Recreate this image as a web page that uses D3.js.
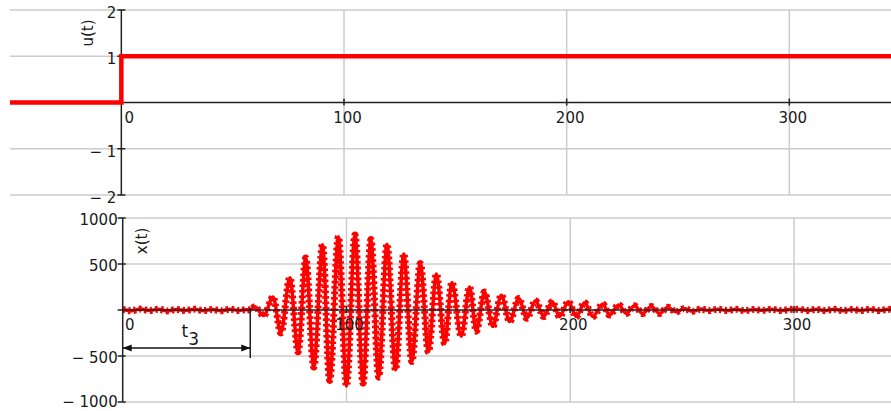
<!DOCTYPE html>
<html>
<head>
<meta charset="utf-8">
<script src="https://cdn.jsdelivr.net/npm/d3@7"></script>
<style>
	body { margin: 0; background: #fff; }
	svg { display: block; }
	.lbl { font-family: "DejaVu Sans", sans-serif; font-size: 15px; fill: #1a1a1a; }
	.grid { stroke: #cccccc; stroke-width: 1.5; }
	.axis { stroke: #222; stroke-width: 1.5; }
</style>
</head>
<body>
<div id="chart"></div>
<script>

// u(t) : unit step
var stepTimes = [-50, 0, 350]
var stepValues = [0, 1, 1]

// x(t) : response (peaks / troughs + flat noise)
var sigTimes = [0, 4, 8, 12, 16, 20, 24, 28, 32, 36, 40, 44, 48, 52, 55,
	57, 59, 63, 67.2, 70.7, 74.7, 78.4, 81.8, 85.4, 89.3, 92.5, 96.4, 100,
	103.8, 107.4, 110.9, 114.4, 118.1, 121.9, 125.6, 129.2, 133, 136.6, 140.2,
	143.9, 147.1, 151.3, 155, 158, 161.7, 165.4, 169.2, 172.9, 177, 180.6,
	184.5, 188.1, 192, 195.2, 199.2, 202.7, 206.4, 210.1, 214.6, 217.5, 221.7,
	225, 228.7, 232.4, 236.2, 239.9, 243.6, 247.3, 251, 254.7, 258.5,
	262, 266, 270, 274, 278, 282, 286, 290, 294, 298, 302, 306, 310, 314,
	318, 322, 326, 330, 334, 338, 342, 346, 350]
var sigValues = [5, -8, 10, -6, 8, -10, 6, -5, 9, -7, 6, -9, 8, -6, 4,
	0, 35, -60, 140, -250, 350, -455, 565, -620, 710, -765, 795, -825,
	815, -795, 765, -730, 715, -650, 610, -560, 505, -455, 390,
	-365, 300, -285, 250, -230, 195, -178, 160, -125, 125, -90,
	100, -72, 90, -72, 90, -72, 80, -70, 65, -55, 55,
	-38, 45, -38, 38, -38, 30, -20, 15, -14, 10,
	-6, 8, -5, 7, -8, 6, -4, 8, -6, 5, 9, -5, 7, -6,
	8, -7, 6, -5, 8, -6, 7, -4, 5]

var t3 = 57

var xTicks = [0, 100, 200, 300]
var topYTicks = [2, 1, -1, -2]
var topYLabels = ["2", "1", "\u2212 1", "\u2212 2"]
var botYTicks = [1000, 500, -500, -1000]
var botYLabels = ["1000", "500", "\u2212 500", "\u2212 1000"]

var width = 891
var height = 411

var svg = d3.select("#chart").append("svg")
	.attr("width", width)
	.attr("height", height)

// ---- top panel ----
var xT = d3.scaleLinear().domain([-50, 350]).range([10, 10 + 400 * 2.2267])
var yT = d3.scaleLinear().domain([-2, 2]).range([195, 10])

var topG = svg.append("g")

topG.selectAll(".hg")
	.data(topYTicks)
	.enter().append("line")
	.attr("class", "grid")
	.attr("x1", xT(-50)).attr("x2", width)
	.attr("y1", d => yT(d)).attr("y2", d => yT(d))

topG.selectAll(".vg")
	.data(xTicks.filter(d => d > 0))
	.enter().append("line")
	.attr("class", "grid")
	.attr("x1", d => xT(d)).attr("x2", d => xT(d))
	.attr("y1", yT(2)).attr("y2", yT(-2))

// axes
topG.append("line").attr("class", "axis")
	.attr("x1", xT(-50)).attr("x2", width)
	.attr("y1", yT(0)).attr("y2", yT(0))
topG.append("line").attr("class", "axis")
	.attr("x1", xT(0)).attr("x2", xT(0))
	.attr("y1", yT(2)).attr("y2", yT(-2))

topG.selectAll(".yt")
	.data(topYTicks)
	.enter().append("line")
	.attr("class", "axis")
	.attr("x1", xT(0) - 4).attr("x2", xT(0) + 4)
	.attr("y1", d => yT(d)).attr("y2", d => yT(d))

topG.selectAll(".xt")
	.data(xTicks.filter(d => d > 0))
	.enter().append("line")
	.attr("class", "axis")
	.attr("x1", d => xT(d)).attr("x2", d => xT(d))
	.attr("y1", yT(0) - 4).attr("y2", yT(0) + 3)

topG.selectAll(".ylab")
	.data(topYTicks)
	.enter().append("text")
	.attr("class", "lbl")
	.attr("text-anchor", "end")
	.attr("x", xT(0) - 5)
	.attr("y", d => yT(d) + 8)
	.text((d, i) => topYLabels[i])

topG.selectAll(".xlab")
	.data(xTicks)
	.enter().append("text")
	.attr("class", "lbl")
	.attr("text-anchor", "middle")
	.attr("x", d => xT(d) + (d == 0 ? 8 : 3.5))
	.attr("y", yT(0) + 20)
	.text(d => d)

topG.append("text")
	.attr("class", "lbl")
	.attr("text-anchor", "middle")
	.attr("transform", "translate(93,33) rotate(-90)")
	.text("u(t)")

var stepLine = d3.line()
	.x((d, i) => xT(stepTimes[i]))
	.y((d, i) => yT(stepValues[i]))
	.curve(d3.curveStepAfter)

topG.append("path")
	.datum(stepTimes)
	.attr("d", stepLine)
	.attr("fill", "none")
	.attr("stroke", "#ff0000")
	.attr("stroke-width", 4.5)

// ---- bottom panel ----
var xB = d3.scaleLinear().domain([0, 350]).range([122.7, 122.7 + 350 * 2.2377])
var yB = d3.scaleLinear().domain([-1000, 1000]).range([402, 218])

var bot = svg.append("g")

bot.selectAll(".hg")
	.data(botYTicks)
	.enter().append("line")
	.attr("class", "grid")
	.attr("x1", xB(0)).attr("x2", width)
	.attr("y1", d => yB(d)).attr("y2", d => yB(d))

bot.selectAll(".vg")
	.data(xTicks.filter(d => d > 0))
	.enter().append("line")
	.attr("class", "grid")
	.attr("x1", d => xB(d)).attr("x2", d => xB(d))
	.attr("y1", yB(1000)).attr("y2", yB(-1000))

var sigLine = d3.line()
	.x((d, i) => xB(sigTimes[i]))
	.y((d, i) => yB(sigValues[i]))
	.curve(d3.curveMonotoneX)

// solid core + broken wide stroke, to look like the "+" point markers
bot.append("path")
	.datum(sigTimes)
	.attr("d", sigLine)
	.attr("fill", "none")
	.attr("stroke", "#ff0000")
	.attr("stroke-width", 3.5)
	.attr("stroke-linejoin", "round")

bot.append("path")
	.datum(sigTimes)
	.attr("d", sigLine)
	.attr("fill", "none")
	.attr("stroke", "#ff0000")
	.attr("stroke-width", 7)
	.attr("stroke-dasharray", "2.5 3")

// axes drawn over the signal
bot.append("line").attr("class", "axis")
	.attr("x1", xB(0)).attr("x2", width)
	.attr("y1", yB(0)).attr("y2", yB(0))
bot.append("line").attr("class", "axis")
	.attr("x1", xB(0)).attr("x2", xB(0))
	.attr("y1", yB(1000)).attr("y2", yB(-1000))

bot.selectAll(".yt")
	.data(botYTicks.concat([0]))
	.enter().append("line")
	.attr("class", "axis")
	.attr("x1", xB(0) - 5).attr("x2", d => d == 0 ? xB(0) : xB(0) + 3)
	.attr("y1", d => yB(d)).attr("y2", d => yB(d))

bot.selectAll(".xt")
	.data(xTicks.filter(d => d > 0))
	.enter().append("line")
	.attr("class", "axis")
	.attr("x1", d => xB(d)).attr("x2", d => xB(d))
	.attr("y1", yB(0) - 4).attr("y2", yB(0) + 3)

bot.selectAll(".ylab")
	.data(botYTicks)
	.enter().append("text")
	.attr("class", "lbl")
	.attr("text-anchor", "end")
	.attr("x", xB(0) - 5)
	.attr("y", d => yB(d) + (d == -1000 ? 5 : 7))
	.text((d, i) => botYLabels[i])

bot.selectAll(".xlab")
	.data(xTicks)
	.enter().append("text")
	.attr("class", "lbl")
	.attr("text-anchor", "middle")
	.attr("x", d => xB(d) + (d == 0 ? 7 : 3))
	.attr("y", yB(0) + 20)
	.text(d => d)

bot.append("text")
	.attr("class", "lbl")
	.attr("text-anchor", "middle")
	.attr("transform", "translate(147,241) rotate(-90)")
	.text("x(t)")

// t3 dimension
var dimY = 348
bot.append("line").attr("class", "axis")
	.attr("x1", xB(t3)).attr("x2", xB(t3))
	.attr("y1", yB(0) - 2).attr("y2", 358)
bot.append("line")
	.attr("stroke", "#111").attr("stroke-width", 1.5)
	.attr("x1", xB(0)).attr("x2", xB(t3))
	.attr("y1", dimY).attr("y2", dimY)

// arrow heads
var a0 = xB(0), a1 = xB(t3)
bot.append("path")
	.attr("d", `M${a0},${dimY}L${a0 + 9},${dimY - 3.5}L${a0 + 9},${dimY + 3.5}Z`)
	.attr("fill", "#111")
bot.append("path")
	.attr("d", `M${a1},${dimY}L${a1 - 9},${dimY - 3.5}L${a1 - 9},${dimY + 3.5}Z`)
	.attr("fill", "#111")

var tl = bot.append("text")
	.attr("class", "lbl")
	.attr("x", (a0 + a1) / 2 - 5)
	.attr("y", 337)
	.style("font-size", "17px")
tl.append("tspan").text("t")
tl.append("tspan").attr("dy", 8).text("3")

</script>
</body>
</html>
